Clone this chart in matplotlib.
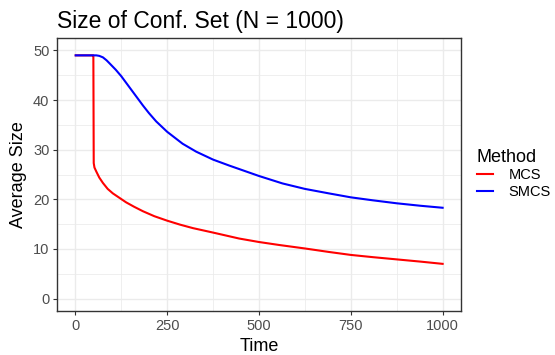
import matplotlib
matplotlib.use("Agg")
import matplotlib.pyplot as plt
from matplotlib.ticker import MultipleLocator

plt.rcParams['font.family'] = ['Liberation Sans', 'DejaVu Sans']

# values
mcs_time = [1, 20, 48, 49, 50, 52, 57, 65, 75, 88, 102, 120, 138, 160, 184, 215, 250,
            285, 320, 375, 446, 500, 555, 625, 690, 750, 810, 875, 940, 1000]
mcs_size = [49, 49, 49, 49, 27.3, 26.4, 25.6, 24.4, 23.3, 22.1, 21.2, 20.3, 19.4,
            18.5, 17.6, 16.6, 15.7, 14.9, 14.2, 13.3, 12.1, 11.4, 10.8, 10.1, 9.4,
            8.8, 8.35, 7.9, 7.45, 7.0]

smcs_time = [1, 30, 57, 65, 75, 85, 93, 110, 125, 148, 166, 184, 200, 220, 250, 292,
             329, 375, 419, 446, 500, 564, 625, 690, 750, 810, 875, 940, 1000]
smcs_size = [49, 49, 49, 48.9, 48.6, 48.0, 47.4, 46.1, 44.8, 42.5, 40.7, 38.9, 37.4,
             35.7, 33.6, 31.2, 29.6, 28.0, 26.8, 26.1, 24.7, 23.2, 22.1, 21.2, 20.4,
             19.8, 19.2, 18.7, 18.3]

series = [("MCS", mcs_time, mcs_size, "#FF0000"),
          ("SMCS", smcs_time, smcs_size, "#0000FF")]

fig = plt.figure(figsize=(5.55, 3.55), dpi=100)
ax = fig.add_axes([0.1027, 0.1239, 0.7279, 0.7691])

for name, t, v, col in series:
    ax.plot(t, v, color=col, lw=1.5, label=name)

ax.set_xlim(-50, 1050)
ax.set_ylim(-2.5, 52.5)
ax.xaxis.set_major_locator(MultipleLocator(250))
ax.xaxis.set_minor_locator(MultipleLocator(125))
ax.yaxis.set_major_locator(MultipleLocator(10))
ax.yaxis.set_minor_locator(MultipleLocator(5))
ax.grid(which='major', color='#EBEBEB', lw=1.0)
ax.grid(which='minor', color='#EBEBEB', lw=0.55)
ax.set_axisbelow(True)
ax.tick_params(which='minor', length=0)
ax.tick_params(which='major', length=3, width=0.8, color='#333333',
               labelcolor='#4D4D4D', labelsize=10.5, pad=2.5)
for s in ax.spines.values():
    s.set_color('#333333')
    s.set_linewidth(1.0)

ax.set_xlabel('Time', fontsize=13, labelpad=3.5)
ax.set_ylabel('Average Size', fontsize=13, labelpad=4)
ax.set_title('Size of Conf. Set (N = 1000)', loc='left', fontsize=16.5, pad=7)

leg = fig.legend(loc='center left', bbox_to_anchor=(0.835, 0.51), frameon=False,
                 title='Method', fontsize=10.5, title_fontsize=13,
                 handlelength=1.1, handletextpad=1.1, labelspacing=0.15)
leg._legend_box.align = 'left'

fig.savefig('out.png', dpi=100)
